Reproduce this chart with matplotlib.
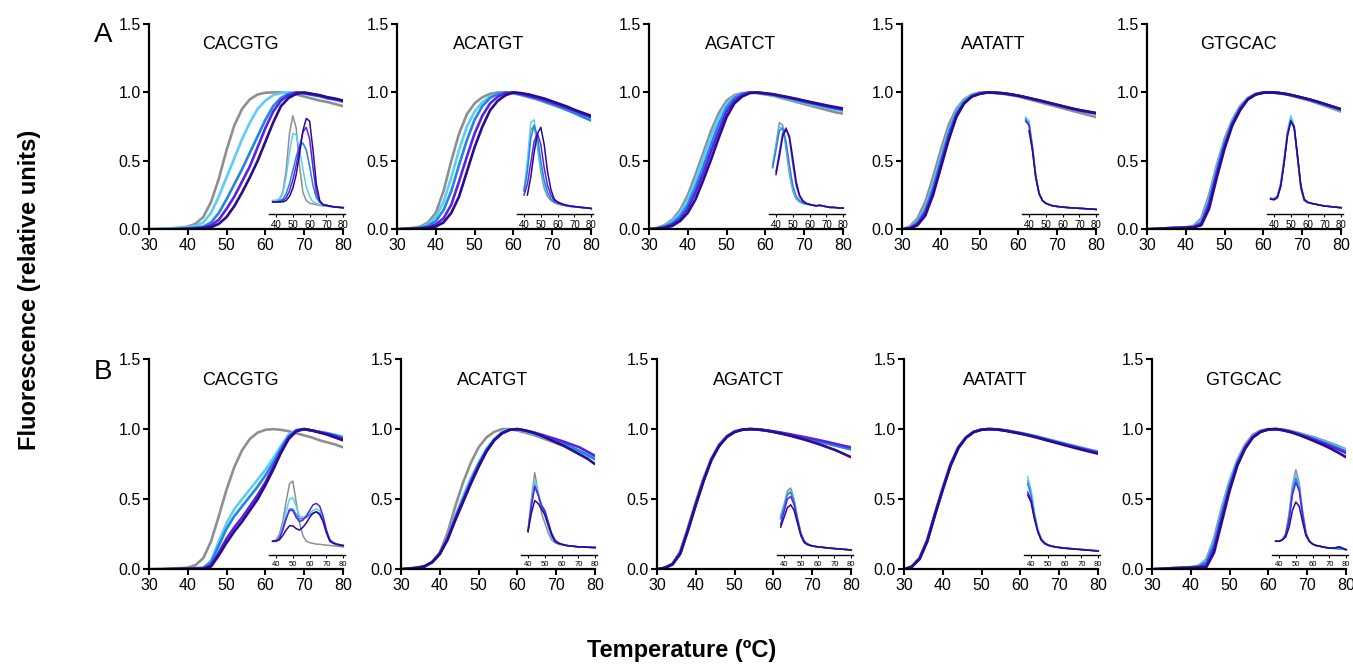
import numpy as np
import matplotlib
matplotlib.use('Agg')
import matplotlib.pyplot as plt

matplotlib.rcParams.update({
    'font.family': ['Liberation Sans', 'DejaVu Sans'],
    'font.size': 11.5,
    'xtick.labelsize': 11.5,
    'ytick.labelsize': 11.5,
    'axes.linewidth': 1.6,
})

nan = np.nan

# temperature grids (ºC)
temp_melt = [30, 32, 34, 36, 38, 40, 42, 44, 46, 48, 50, 52, 54,
             56, 58, 60, 62, 64, 66, 68, 70, 72, 74, 76, 78, 80]
temp_deriv = [38, 40, 42, 44, 46, 48, 50, 52, 54, 56, 58,
              60, 62, 64, 66, 68, 70, 72, 74, 76, 78, 80]

sequences = ['CACGTG', 'ACATGT', 'AGATCT', 'AATATT', 'GTGCAC']
colors = ['#8f8f8f', '#5ccdf7', '#1f86e6', '#5a22e6', '#2b0b8f']

# ---- row A : melting curves (gray, sky, blue, violet, indigo) ----
melt_a_cacgtg = [
    [0, .003, .005, .008, .012, .02, .04, .09, .2, .37, .58, .76, .88, .95, .985, .998, 1.0, 1.0, .995, .985, .97, .955, .94, .93, .915, .90],
    [0, .002, .004, .006, .01, .015, .025, .05, .12, .24, .38, .52, .66, .78, .88, .94, .98, .995, 1.0, 1.0, .99, .98, .97, .955, .945, .93],
    [0, 0, 0, .002, .004, .008, .012, .02, .05, .12, .22, .33, .44, .56, .68, .8, .9, .96, .99, 1.0, .995, .985, .975, .96, .95, .935],
    [0, 0, 0, 0, .002, .004, .006, .012, .03, .07, .15, .24, .35, .46, .6, .74, .86, .94, .98, 1.0, .995, .985, .975, .96, .95, .94],
    [0, 0, 0, 0, 0, .002, .004, .008, .015, .04, .09, .17, .27, .38, .5, .64, .78, .9, .96, .99, 1.0, .99, .98, .965, .955, .94],
]
deriv_a_cacgtg = [
    [.21, .21, .22, .27, .43, .7, .83, .74, .46, .27, .21, .19, .185, .18, .175, .17, .17, .165, .165, .16, .16, .155],
    [.21, .21, .22, .26, .38, .56, .7, .69, .58, .44, .31, .24, .2, .19, .18, .175, .17, .168, .165, .162, .16, .158],
    [.2, .2, .21, .22, .26, .33, .43, .53, .61, .63, .58, .46, .32, .23, .2, .18, .175, .17, .165, .162, .16, .158],
    [.2, .2, .2, .21, .23, .28, .36, .47, .6, .71, .745, .66, .45, .27, .2, .18, .175, .17, .165, .162, .16, .158],
    [.2, .2, .2, .2, .21, .24, .3, .4, .55, .72, .81, .79, .58, .33, .21, .18, .175, .17, .165, .162, .16, .158],
]

melt_a_acatgt = [
    [0, .005, .01, .02, .05, .12, .28, .5, .7, .84, .92, .965, .99, 1.0, 1.0, .995, .98, .965, .95, .93, .91, .89, .87, .85, .82, .8],
    [0, .004, .008, .015, .035, .09, .2, .38, .58, .75, .86, .93, .97, .99, 1.0, .995, .985, .97, .955, .935, .915, .895, .875, .85, .825, .8],
    [0, .003, .006, .012, .025, .06, .14, .28, .47, .65, .8, .9, .96, .99, 1.0, .995, .985, .97, .955, .935, .915, .895, .87, .845, .82, .795],
    [0, .002, .004, .008, .015, .035, .08, .18, .35, .53, .7, .83, .92, .97, .995, 1.0, .99, .975, .96, .945, .925, .905, .885, .865, .84, .82],
    [0, .002, .003, .005, .01, .02, .05, .12, .24, .42, .6, .75, .87, .94, .98, 1.0, .995, .985, .97, .955, .935, .915, .895, .87, .85, .83],
]
deriv_a_acatgt = [
    [nan, .28, .45, .72, .76, .6, .42, .3, .24, .21, .195, .185, .18, .175, .17, .165, .165, .16, .16, .155, .155, .15],
    [nan, .29, .5, .78, .8, .64, .46, .33, .26, .22, .2, .19, .18, .175, .17, .168, .165, .162, .16, .158, .155, .152],
    [nan, .28, .42, .66, .76, .68, .5, .36, .27, .22, .2, .19, .18, .175, .17, .168, .165, .162, .16, .158, .155, .152],
    [nan, .25, .33, .48, .64, .7, .62, .45, .32, .25, .21, .195, .185, .178, .172, .168, .165, .162, .16, .158, .155, .152],
    [nan, nan, .25, .38, .56, .7, .745, .62, .42, .29, .22, .2, .19, .18, .175, .17, .167, .164, .16, .158, .155, .152],
]

melt_a_agatct = [
    [0, .01, .03, .07, .14, .25, .4, .56, .72, .85, .94, .98, .995, 1.0, .995, .985, .975, .96, .945, .93, .915, .9, .885, .87, .855, .845],
    [0, .008, .025, .06, .12, .22, .36, .52, .68, .82, .92, .97, .99, 1.0, .997, .99, .98, .967, .953, .94, .925, .91, .9, .888, .875, .865],
    [0, .006, .02, .045, .095, .18, .31, .46, .62, .77, .89, .96, .99, 1.0, .997, .99, .982, .97, .958, .945, .93, .918, .905, .893, .882, .872],
    [0, .005, .015, .035, .075, .15, .27, .41, .57, .72, .86, .94, .98, 1.0, .998, .992, .985, .973, .962, .95, .937, .924, .911, .899, .888, .878],
    [0, .004, .01, .025, .06, .12, .22, .36, .51, .67, .82, .92, .97, .995, 1.0, .994, .987, .976, .965, .953, .94, .928, .916, .904, .893, .883],
]
deriv_a_agatct = [
    [.47, .62, .78, .76, .58, .4, .28, .22, .2, .19, .185, .18, .175, .17, .175, .17, .165, .16, .16, .158, .155, .155],
    [.46, .6, .74, .75, .62, .44, .3, .23, .2, .19, .185, .18, .175, .17, .175, .17, .165, .16, .16, .158, .155, .155],
    [.45, .58, .72, .74, .64, .47, .32, .24, .21, .19, .185, .18, .175, .17, .175, .17, .165, .16, .16, .158, .155, .155],
    [nan, .42, .56, .7, .74, .66, .48, .32, .24, .2, .19, .182, .176, .172, .176, .17, .165, .16, .16, .158, .155, .155],
    [nan, .4, .53, .68, .73, .68, .52, .35, .25, .21, .19, .182, .176, .172, .176, .17, .165, .16, .16, .158, .155, .155],
]

melt_a_aatatt = [
    [0, .02, .08, .2, .38, .58, .76, .88, .95, .985, 1.0, 1.0, .995, .99, .98, .97, .955, .94, .925, .91, .895, .88, .865, .85, .835, .82],
    [0, .015, .06, .16, .33, .53, .72, .86, .94, .98, .995, 1.0, .998, .993, .985, .975, .962, .948, .934, .92, .906, .892, .878, .865, .855, .845],
    [0, .01, .05, .14, .3, .5, .7, .85, .93, .975, .993, 1.0, .998, .993, .985, .975, .962, .948, .934, .92, .906, .892, .878, .866, .856, .846],
    [0, .008, .04, .12, .27, .47, .67, .83, .92, .97, .99, 1.0, .998, .994, .986, .976, .963, .95, .936, .922, .908, .894, .88, .868, .858, .848],
    [0, .005, .03, .1, .25, .45, .65, .82, .92, .97, .99, 1.0, .998, .994, .986, .976, .964, .951, .938, .924, .91, .896, .882, .87, .86, .85],
]
deriv_a_aatatt = [
    [.81, .78, .6, .39, .26, .21, .19, .18, .172, .168, .165, .162, .16, .158, .156, .155, .153, .152, .15, .148, .147, .145],
    [.82, .79, .62, .4, .27, .21, .19, .18, .172, .168, .165, .162, .16, .158, .156, .155, .153, .152, .15, .148, .147, .145],
    [.8, .77, .6, .39, .26, .21, .19, .18, .172, .168, .165, .162, .16, .158, .156, .155, .153, .152, .15, .148, .147, .145],
    [.79, .76, .59, .38, .26, .21, .19, .18, .172, .168, .165, .162, .16, .158, .156, .155, .153, .152, .15, .148, .147, .145],
    [nan, .72, .58, .38, .26, .21, .19, .18, .172, .168, .165, .162, .16, .158, .156, .155, .153, .152, .15, .148, .147, .145],
]

melt_a_gtgcac = [
    [0, .003, .006, .01, .012, .015, .025, .08, .25, .47, .66, .8, .9, .96, .99, 1.0, 1.0, .995, .985, .97, .955, .94, .92, .9, .88, .86],
    [0, .003, .006, .01, .012, .015, .02, .06, .22, .45, .64, .79, .89, .955, .988, 1.0, 1.0, .995, .986, .973, .958, .943, .925, .906, .887, .868],
    [0, .003, .006, .009, .011, .013, .018, .05, .2, .43, .63, .78, .885, .952, .987, .999, 1.0, .996, .987, .974, .96, .945, .928, .91, .892, .873],
    [0, .002, .005, .008, .01, .012, .016, .04, .18, .41, .61, .77, .88, .95, .985, .998, 1.0, .996, .988, .975, .961, .947, .93, .912, .894, .876],
    [0, .002, .004, .007, .009, .011, .014, .03, .15, .38, .59, .76, .87, .95, .985, .998, 1.0, .996, .988, .976, .962, .948, .932, .914, .896, .878],
]
deriv_a_gtgcac = [
    [.225, .22, .24, .33, .5, .7, .8, .74, .52, .3, .21, .195, .19, .185, .18, .175, .17, .168, .165, .163, .16, .158],
    [.23, .225, .245, .34, .52, .72, .83, .76, .53, .3, .21, .195, .19, .185, .18, .175, .17, .168, .165, .163, .16, .158],
    [.225, .22, .24, .33, .5, .7, .8, .74, .52, .3, .21, .195, .19, .185, .18, .175, .17, .168, .165, .163, .16, .158],
    [.22, .218, .235, .32, .49, .69, .79, .74, .53, .31, .215, .197, .19, .185, .18, .175, .17, .168, .165, .163, .16, .158],
    [.22, .215, .23, .31, .48, .68, .79, .75, .54, .32, .22, .2, .19, .185, .18, .175, .17, .168, .165, .163, .16, .158],
]

# ---- row B ----
melt_b_cacgtg = [
    [0, .002, .004, .006, .008, .012, .03, .08, .2, .38, .57, .73, .85, .93, .975, .995, 1.0, .995, .985, .97, .955, .94, .92, .905, .89, .87],
    [0, 0, 0, .002, .004, .006, .008, .01, .06, .2, .33, .43, .5, .57, .64, .71, .79, .88, .96, .995, 1.0, .99, .98, .97, .96, .945],
    [0, 0, 0, .002, .004, .006, .008, .01, .05, .17, .29, .38, .45, .52, .59, .67, .76, .86, .95, .99, 1.0, .99, .98, .97, .955, .94],
    [0, 0, 0, .002, .003, .004, .005, .005, .03, .12, .22, .3, .37, .45, .53, .62, .73, .84, .94, .99, 1.0, .99, .978, .965, .95, .93],
    [0, 0, 0, .001, .002, .003, .003, .003, .02, .1, .19, .27, .34, .42, .5, .6, .71, .83, .93, .985, 1.0, .99, .975, .96, .94, .92],
]
deriv_b_cacgtg = [
    [.2, .21, .25, .34, .48, .61, .63, .48, .33, .24, .2, .19, .185, .18, .178, .175, .172, .17, .168, .165, .163, .16],
    [.2, .2, .23, .3, .41, .5, .51, .45, .38, .37, .38, .4, .42, .43, .42, .36, .27, .21, .19, .18, .175, .17],
    [.2, .2, .22, .28, .36, .43, .43, .39, .36, .36, .37, .39, .4, .41, .4, .35, .27, .21, .19, .18, .175, .17],
    [.2, .2, .22, .28, .36, .42, .42, .37, .34, .35, .38, .42, .46, .47, .45, .38, .28, .21, .19, .18, .175, .17],
    [.2, .2, .21, .24, .28, .31, .31, .29, .28, .3, .33, .37, .4, .41, .39, .34, .26, .2, .185, .178, .172, .168],
]

melt_b_acatgt = [
    [0, .005, .01, .02, .05, .12, .26, .45, .62, .76, .87, .94, .98, 1.0, 1.0, .99, .975, .96, .94, .92, .9, .88, .86, .84, .82, .8],
    [0, .005, .01, .02, .05, .11, .23, .38, .52, .65, .76, .86, .93, .98, 1.0, .995, .985, .97, .95, .93, .91, .89, .87, .84, .815, .79],
    [0, .005, .01, .02, .05, .11, .22, .37, .5, .63, .75, .85, .92, .97, .995, 1.0, .99, .975, .955, .935, .915, .895, .87, .845, .815, .785],
    [0, .005, .01, .02, .05, .11, .22, .36, .49, .62, .74, .84, .92, .97, .995, 1.0, .99, .978, .962, .945, .928, .91, .89, .87, .84, .81],
    [0, .005, .01, .02, .05, .11, .21, .35, .48, .61, .73, .84, .92, .97, .995, 1.0, .99, .975, .955, .93, .905, .88, .85, .82, .79, .75],
]
deriv_b_acatgt = [
    [nan, .27, .5, .69, .55, .4, .33, .26, .21, .19, .18, .175, .17, .168, .165, .163, .16, .16, .158, .157, .156, .155],
    [nan, .27, .48, .64, .55, .44, .38, .3, .23, .2, .185, .178, .172, .168, .165, .163, .16, .16, .158, .157, .156, .155],
    [nan, .27, .46, .6, .54, .45, .4, .32, .24, .2, .185, .178, .172, .168, .165, .163, .16, .16, .158, .157, .156, .155],
    [nan, .27, .45, .59, .53, .46, .42, .34, .26, .21, .19, .18, .173, .168, .165, .163, .16, .16, .158, .157, .156, .155],
    [nan, .27, .4, .49, .47, .43, .39, .32, .25, .2, .185, .178, .172, .168, .165, .163, .16, .16, .158, .157, .156, .155],
]

melt_b_agatct = [
    [0, .01, .04, .13, .3, .48, .65, .79, .89, .95, .985, .998, 1.0, .997, .99, .98, .97, .958, .946, .934, .921, .908, .895, .882, .868, .855],
    [0, .01, .04, .12, .29, .47, .64, .78, .88, .945, .98, .996, 1.0, .998, .991, .982, .972, .961, .95, .938, .926, .914, .902, .89, .877, .865],
    [0, .01, .038, .12, .29, .47, .64, .78, .88, .945, .98, .996, 1.0, .997, .99, .98, .97, .958, .946, .934, .922, .91, .897, .884, .87, .857],
    [0, .01, .036, .115, .28, .46, .63, .78, .88, .945, .98, .996, 1.0, .998, .992, .984, .975, .965, .954, .943, .932, .92, .908, .895, .882, .87],
    [0, .01, .035, .11, .28, .46, .63, .78, .88, .945, .98, .996, 1.0, .997, .99, .98, .968, .955, .94, .925, .908, .89, .87, .85, .825, .8],
]
deriv_b_agatct = [
    [.38, .46, .56, .58, .5, .37, .26, .2, .18, .17, .165, .16, .158, .155, .153, .15, .148, .146, .144, .142, .14, .138],
    [.37, .45, .54, .56, .49, .36, .26, .2, .18, .17, .165, .16, .158, .155, .153, .15, .148, .146, .144, .142, .14, .138],
    [.36, .44, .53, .55, .48, .36, .26, .2, .18, .17, .165, .16, .158, .155, .153, .15, .148, .146, .144, .142, .14, .138],
    [.32, .41, .5, .52, .46, .35, .25, .2, .18, .17, .165, .16, .158, .155, .153, .15, .148, .146, .144, .142, .14, .138],
    [.3, .37, .44, .46, .42, .33, .24, .19, .175, .168, .163, .16, .158, .155, .153, .15, .148, .146, .144, .142, .14, .138],
]

melt_b_aatatt = [
    [0, .02, .08, .21, .4, .58, .75, .87, .94, .98, .997, 1.0, .998, .99, .98, .97, .958, .945, .93, .915, .9, .885, .87, .856, .843, .83],
    [0, .02, .08, .21, .4, .58, .75, .87, .94, .98, .997, 1.0, .998, .992, .983, .973, .962, .95, .936, .922, .908, .894, .88, .866, .853, .84],
    [0, .02, .08, .21, .4, .58, .75, .87, .94, .98, .997, 1.0, .998, .991, .982, .972, .96, .947, .933, .918, .904, .89, .876, .862, .849, .836],
    [0, .018, .075, .2, .39, .57, .74, .865, .94, .98, .996, 1.0, .998, .99, .98, .97, .958, .945, .93, .915, .9, .886, .872, .858, .845, .832],
    [0, .017, .072, .2, .39, .57, .74, .865, .94, .98, .996, 1.0, .997, .989, .978, .967, .955, .941, .926, .911, .896, .881, .866, .852, .838, .825],
]
deriv_b_aatatt = [
    [.63, .55, .4, .28, .22, .19, .175, .168, .162, .158, .155, .152, .15, .148, .146, .144, .142, .14, .138, .136, .134, .132],
    [.66, .57, .41, .29, .22, .19, .175, .168, .162, .158, .155, .152, .15, .148, .146, .144, .142, .14, .138, .136, .134, .132],
    [.61, .53, .39, .28, .22, .19, .175, .168, .162, .158, .155, .152, .15, .148, .146, .144, .142, .14, .138, .136, .134, .132],
    [.55, .5, .37, .27, .21, .185, .172, .165, .16, .156, .153, .15, .148, .146, .144, .142, .14, .138, .136, .134, .132, .13],
    [.53, .48, .36, .27, .21, .185, .172, .165, .16, .156, .153, .15, .148, .146, .144, .142, .14, .138, .136, .134, .132, .13],
]

melt_b_gtgcac = [
    [0, .003, .006, .01, .012, .015, .025, .07, .22, .44, .63, .78, .89, .96, .99, 1.0, 1.0, .995, .985, .97, .955, .94, .92, .9, .88, .855],
    [0, .003, .006, .01, .012, .015, .022, .06, .2, .42, .62, .77, .88, .95, .985, .998, 1.0, .994, .983, .968, .951, .933, .913, .893, .872, .85],
    [0, .003, .006, .009, .011, .013, .02, .05, .18, .4, .6, .76, .87, .945, .983, .997, 1.0, .993, .981, .965, .947, .928, .907, .886, .864, .84],
    [0, .002, .005, .008, .01, .012, .016, .03, .15, .37, .58, .75, .87, .945, .983, .997, 1.0, .992, .979, .962, .943, .922, .9, .878, .855, .83],
    [0, .002, .004, .007, .009, .011, .013, .015, .12, .34, .56, .74, .86, .94, .98, .998, 1.0, .99, .976, .957, .935, .912, .888, .862, .832, .8],
]
deriv_b_gtgcac = [
    [.2, .2, .21, .26, .4, .6, .71, .62, .42, .26, .2, .18, .17, .165, .16, .155, .152, .15, .148, .146, .144, .14],
    [.2, .2, .21, .25, .38, .58, .68, .6, .41, .26, .2, .18, .17, .165, .16, .155, .152, .15, .148, .146, .144, .14],
    [.2, .2, .21, .25, .37, .56, .65, .58, .4, .26, .2, .18, .17, .165, .16, .155, .152, .15, .148, .146, .144, .14],
    [.2, .2, .21, .24, .35, .53, .62, .56, .39, .25, .2, .18, .17, .165, .16, .155, .152, .15, .155, .16, .15, .14],
    [.2, .2, .21, .23, .3, .42, .48, .45, .34, .24, .2, .18, .17, .165, .16, .155, .152, .15, .155, .16, .148, .14],
]

rows = [
    ([melt_a_cacgtg, melt_a_acatgt, melt_a_agatct, melt_a_aatatt, melt_a_gtgcac],
     [deriv_a_cacgtg, deriv_a_acatgt, deriv_a_agatct, deriv_a_aatatt, deriv_a_gtgcac]),
    ([melt_b_cacgtg, melt_b_acatgt, melt_b_agatct, melt_b_aatatt, melt_b_gtgcac],
     [deriv_b_cacgtg, deriv_b_acatgt, deriv_b_agatct, deriv_b_aatatt, deriv_b_gtgcac]),
]

W, H = 1353, 667
fig = plt.figure(figsize=(W / 100, H / 100), dpi=100)

# pixel layout of the panels
lefts = [[149, 397, 649, 902, 1147], [149, 401, 657, 904, 1152]]
bottoms = [229.3, 569.3]
heights = [205.3, 210.3]
ax_w = 194
inset_y0 = [0.11, 0.10]
inset_fs = [7, 5.5]

for r, (melts, derivs) in enumerate(rows):
    for c in range(5):
        ax = fig.add_axes([lefts[r][c] / W, 1 - bottoms[r] / H, ax_w / W, heights[r] / H])
        for k in range(5):
            ax.plot(temp_melt, melts[c][k], color=colors[k], lw=1.9, solid_capstyle='round')
        ax.set_xlim(30, 80)
        ax.set_ylim(0, 1.5)
        ax.set_xticks([30, 40, 50, 60, 70, 80])
        ax.set_yticks([0, 0.5, 1.0, 1.5])
        ax.set_yticklabels(['0.0', '0.5', '1.0', '1.5'])
        for s in ['top', 'right']:
            ax.spines[s].set_visible(False)
        ax.tick_params(direction='out', length=4, width=1.5, pad=2)
        ax.text(0.47, 0.9, sequences[c], transform=ax.transAxes,
                ha='center', va='center', fontsize=13)

        # derivative inset
        axins = ax.inset_axes([61, inset_y0[r], 19.5, 0.9], transform=ax.transData)
        axins.patch.set_visible(False)
        for k in range(5):
            axins.plot(temp_deriv, derivs[c][k], color=colors[k], lw=1.1)
        axins.set_xlim(36, 81)
        axins.set_ylim(inset_y0[r], inset_y0[r] + 0.9)
        axins.set_xticks([40, 50, 60, 70, 80])
        axins.set_yticks([])
        for s in ['top', 'right', 'left']:
            axins.spines[s].set_visible(False)
        axins.spines['bottom'].set_linewidth(1.0)
        axins.tick_params(axis='x', direction='out', length=2.5, width=0.8,
                          labelsize=inset_fs[r], pad=1.5)

fig.text(103 / W, 1 - 35 / H, 'A', fontsize=20, ha='center', va='center')
fig.text(103 / W, 1 - 372 / H, 'B', fontsize=20, ha='center', va='center')
fig.text(30 / W, 1 - 290 / H, 'Fluorescence (relative units)', rotation=90,
         fontsize=17, fontweight='bold', ha='center', va='center')
fig.text(682 / W, 1 - 650 / H, 'Temperature (ºC)', fontsize=17,
         fontweight='bold', ha='center', va='center')

fig.savefig('out.png', dpi=100)
